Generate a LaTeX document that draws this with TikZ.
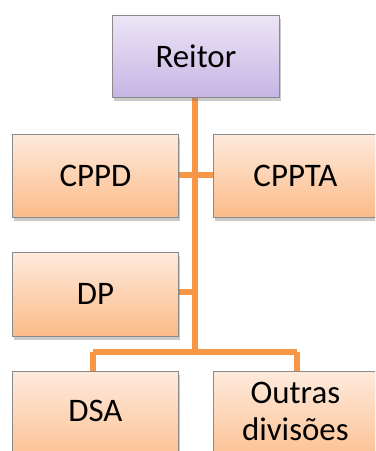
\documentclass[tikz,border=0pt]{standalone}
\usepackage{fontspec}
\setmainfont{Carlito}
\usetikzlibrary{shadows,calc}
\definecolor{lineor}{HTML}{F79646}
\definecolor{purtop}{HTML}{ECE6F6}
\definecolor{purbot}{HTML}{C6B4E4}
\definecolor{ortop}{HTML}{FEEADC}
\definecolor{orbot}{HTML}{FBBB88}
\definecolor{bordgray}{HTML}{8A8A8A}
\tikzset{
  boxbase/.style={draw=bordgray, line width=0.8bp, anchor=north west, inner sep=0pt,
    align=center, font=\fontsize{33}{36}\selectfont,
    drop shadow={shadow xshift=2bp, shadow yshift=-4bp, opacity=0.35, fill=black!60}},
  purbox/.style={boxbase, top color=purtop, bottom color=purbot},
  orbox/.style={boxbase, top color=ortop, bottom color=orbot},
  conn/.style={draw=lineor, line width=6bp}
}
\begin{document}
\begin{tikzpicture}[x=1bp,y=-1bp]
\useasboundingbox (0,0) rectangle (375,451);
\clip (0,0) rectangle (375,451);
% connectors first (boxes drawn over them)
\coordinate (top) at (195,97);
\coordinate (mid) at (195,352);
\coordinate (jl) at (93,352);
\coordinate (jr) at (297,352);
\coordinate (c1) at (195,175);
\coordinate (c2) at (195,292);
\draw[conn] (top) -- (mid);
\draw[conn] (jl) -- (jr);
\draw[conn] (jl) -- (93,371);
\draw[conn] (jr) -- (297,371);
\draw[conn] (178,175) -- (213,175);
\draw[conn] (178,292) -- (c2);
% boxes
\node[purbox, minimum width=167bp, minimum height=82bp] (reitor) at (112,15) {Reitor};
\node[orbox, minimum width=166bp, minimum height=83bp] (cppd) at (12,134) {CPPD};
\node[orbox, minimum width=180bp, minimum height=83bp] (cppta) at (213,134) {\hspace*{-16bp}CPPTA};
\node[orbox, minimum width=166bp, minimum height=84bp] (dp) at (12,252) {DP};
\node[orbox, minimum width=166bp, minimum height=100bp] (dsa) at (12,371) {\smash{DSA}};
\node[orbox, minimum width=180bp, minimum height=100bp, font=\fontsize{33}{37}\selectfont] (outras) at (213,371) {\smash{\raisebox{-19bp}{\begin{tabular}[b]{@{}c@{}}\hspace*{-16bp}Outras\\\hspace*{-16bp}divisões\end{tabular}}}};
\end{tikzpicture}
\end{document}
